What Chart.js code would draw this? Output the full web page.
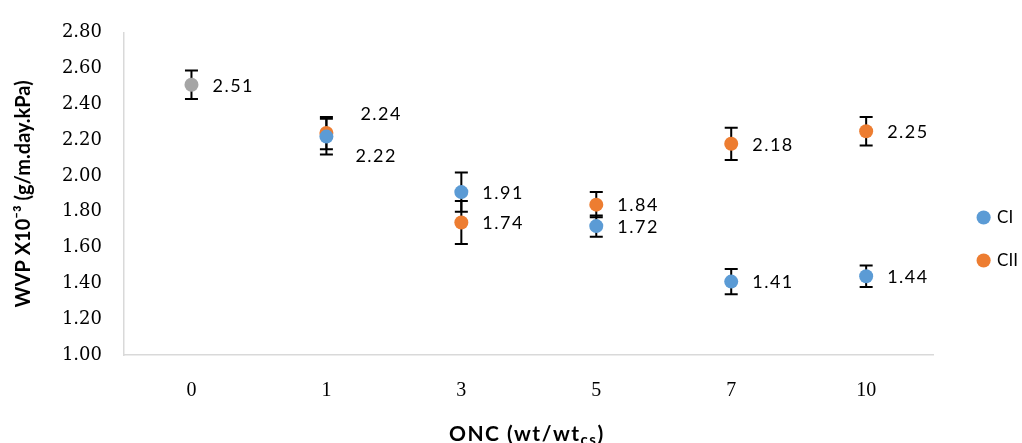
<!DOCTYPE html>
<html>
<head>
<meta charset="utf-8">
<script src="https://cdn.jsdelivr.net/npm/chart.js@4.4.1/dist/chart.umd.min.js"></script>
<style>
  html, body { margin: 0; padding: 0; background: #ffffff; }
  #wrap { width: 1022px; height: 443px; position: relative; }
</style>
</head>
<body>
<div id="wrap"><canvas id="c" width="1022" height="443"></canvas></div>
<script>
const categories = ['0', '1', '3', '5', '7', '10'];
const controlValues = [2.51, null, null, null, null, null];
const controlErrors = [0.08, null, null, null, null, null];
const ciValues = [null, 2.22, 1.91, 1.72, 1.41, 1.44];
const ciErrors = [null, 0.10, 0.11, 0.06, 0.07, 0.06];
const ciiValues = [null, 2.24, 1.74, 1.84, 2.18, 2.25];
const ciiErrors = [null, 0.09, 0.12, 0.07, 0.09, 0.08];
const yTicks = [1.00, 1.20, 1.40, 1.60, 1.80, 2.00, 2.20, 2.40, 2.60, 2.80];
const seriesNames = ['Control', 'CI', 'CII'];
const yTitle = 'WVP X10\u207B\u00B3 (g/m.day.kPa)';
const xTitleMain = 'ONC (wt/wt';
const xTitleSub = 'cs';
const xTitleEnd = ')';

const errorSets = [controlErrors, ciErrors, ciiErrors];

const errorBarPlugin = {
  id: 'errorBars',
  beforeDatasetsDraw(chart) {
    const ctx = chart.ctx;
    const y = chart.scales.y;
    ctx.save();
    ctx.strokeStyle = '#000000';
    ctx.lineWidth = 2;
    chart.data.datasets.forEach((ds, di) => {
      const meta = chart.getDatasetMeta(di);
      const errs = errorSets[di];
      ds.data.forEach((v, i) => {
        if (v === null || errs[i] === null) return;
        const px = meta.data[i].x;
        const top = y.getPixelForValue(v + errs[i]);
        const bot = y.getPixelForValue(v - errs[i]);
        ctx.beginPath();
        ctx.moveTo(px, top); ctx.lineTo(px, bot);
        ctx.moveTo(px - 6.5, top); ctx.lineTo(px + 6.5, top);
        ctx.moveTo(px - 6.5, bot); ctx.lineTo(px + 6.5, bot);
        ctx.stroke();
      });
    });
    ctx.restore();
  }
};

const labelPlugin = {
  id: 'valueLabels',
  afterDatasetsDraw(chart) {
    const ctx = chart.ctx;
    ctx.save();
    ctx.fillStyle = '#000000';
    ctx.font = '18px Lato';
    ctx.letterSpacing = '1.5px';
    ctx.textBaseline = 'middle';
    ctx.textAlign = 'left';
    const all = chart.data.datasets.map(d => d.data);
    chart.data.datasets.forEach((ds, di) => {
      const meta = chart.getDatasetMeta(di);
      ds.data.forEach((v, i) => {
        if (v === null) return;
        const pt = meta.data[i];
        let dx = 21, dy = 0;
        // when another series sits very close at the same category, stack labels
        all.forEach((other, oi) => {
          if (oi === di || other[i] === null) return;
          if (Math.abs(other[i] - v) < 0.05) {
            if (v > other[i]) { dx = 34; dy = -20; } else { dx = 29; dy = 19; }
          }
        });
        ctx.fillText(v.toFixed(2), pt.x + dx, pt.y + dy + 1);
      });
    });
    ctx.restore();
  }
};

const xTitlePlugin = {
  id: 'xTitle',
  afterDraw(chart) {
    const ctx = chart.ctx;
    const area = chart.chartArea;
    ctx.save();
    ctx.fillStyle = '#000000';
    ctx.textBaseline = 'alphabetic';
    ctx.textAlign = 'left';
    ctx.letterSpacing = '1.5px';
    const mainFont = 'bold 21px Lato';
    const subFont = 'bold 15px Lato';
    ctx.font = mainFont;
    const w1 = ctx.measureText(xTitleMain).width;
    const w3 = ctx.measureText(xTitleEnd).width;
    ctx.font = subFont;
    const w2 = ctx.measureText(xTitleSub).width;
    const total = w1 + w2 + w3;
    let x = (area.left + area.right) / 2 - total / 2 - 2;
    const base = 441;
    ctx.font = mainFont;
    ctx.fillText(xTitleMain, x, base);
    x += w1;
    ctx.font = subFont;
    ctx.fillText(xTitleSub, x, base + 4);
    x += w2;
    ctx.font = mainFont;
    ctx.fillText(xTitleEnd, x, base);
    ctx.restore();
  }
};

// nudge the legend to where the reference places it
const legendNudge = {
  id: 'legendNudge',
  afterLayout(chart) {
    const lg = chart.legend;
    if (!lg) return;
    lg.left += 19; lg.right += 19;
    lg.top += 6; lg.bottom += 6;
  }
};

const pointStyleFor = (color) => ({
  backgroundColor: color,
  borderColor: color,
  pointRadius: 7,
  pointHoverRadius: 7,
  pointBorderWidth: 0,
  showLine: false
});

const chart = new Chart(document.getElementById('c'), {
  type: 'line',
  data: {
    labels: categories,
    datasets: [
      Object.assign({ label: seriesNames[0], data: controlValues }, pointStyleFor('#A5A5A5')),
      Object.assign({ label: seriesNames[1], data: ciValues }, pointStyleFor('#5B9BD5')),
      Object.assign({ label: seriesNames[2], data: ciiValues }, pointStyleFor('#ED7D31'))
    ]
  },
  options: {
    responsive: false,
    animation: false,
    events: [],
    layout: { padding: { top: 23, right: 13, bottom: 0, left: 0 } },
    plugins: {
      tooltip: { enabled: false },
      legend: {
        position: 'right',
        align: 'center',
        labels: {
          filter: (item) => item.datasetIndex !== 0,
          usePointStyle: true,
          pointStyle: 'circle',
          boxWidth: 10,
          boxHeight: 10,
          padding: 26,
          color: '#000000',
          font: { family: 'Lato', size: 17 }
        }
      }
    },
    scales: {
      x: {
        type: 'category',
        offset: true,
        grid: { display: false, drawTicks: false },
        border: { display: true, color: '#d9d9d9', width: 1.5 },
        ticks: { padding: 24, color: '#000000', font: { family: 'Liberation Serif', size: 20 } },
        afterFit(scale) { scale.height = 88; }
      },
      y: {
        min: 1.0,
        max: 2.8,
        grid: { display: false, drawTicks: false },
        border: { display: true, color: '#d9d9d9', width: 1.5 },
        afterBuildTicks(scale) { scale.ticks = yTicks.map(v => ({ value: v })); },
        ticks: {
          padding: 22,
          color: '#000000',
          font: { family: 'DejaVu Serif', size: 18 },
          callback: (v) => Number(v).toFixed(2)
        },
        title: {
          display: true,
          text: yTitle,
          color: '#000000',
          font: { family: 'Lato', size: 20, weight: 'bold' },
          padding: { top: 12, bottom: 0 }
        },
        afterFit(scale) { scale.width = 124; }
      }
    }
  },
  plugins: [errorBarPlugin, labelPlugin, xTitlePlugin, legendNudge]
});
</script>
</body>
</html>
